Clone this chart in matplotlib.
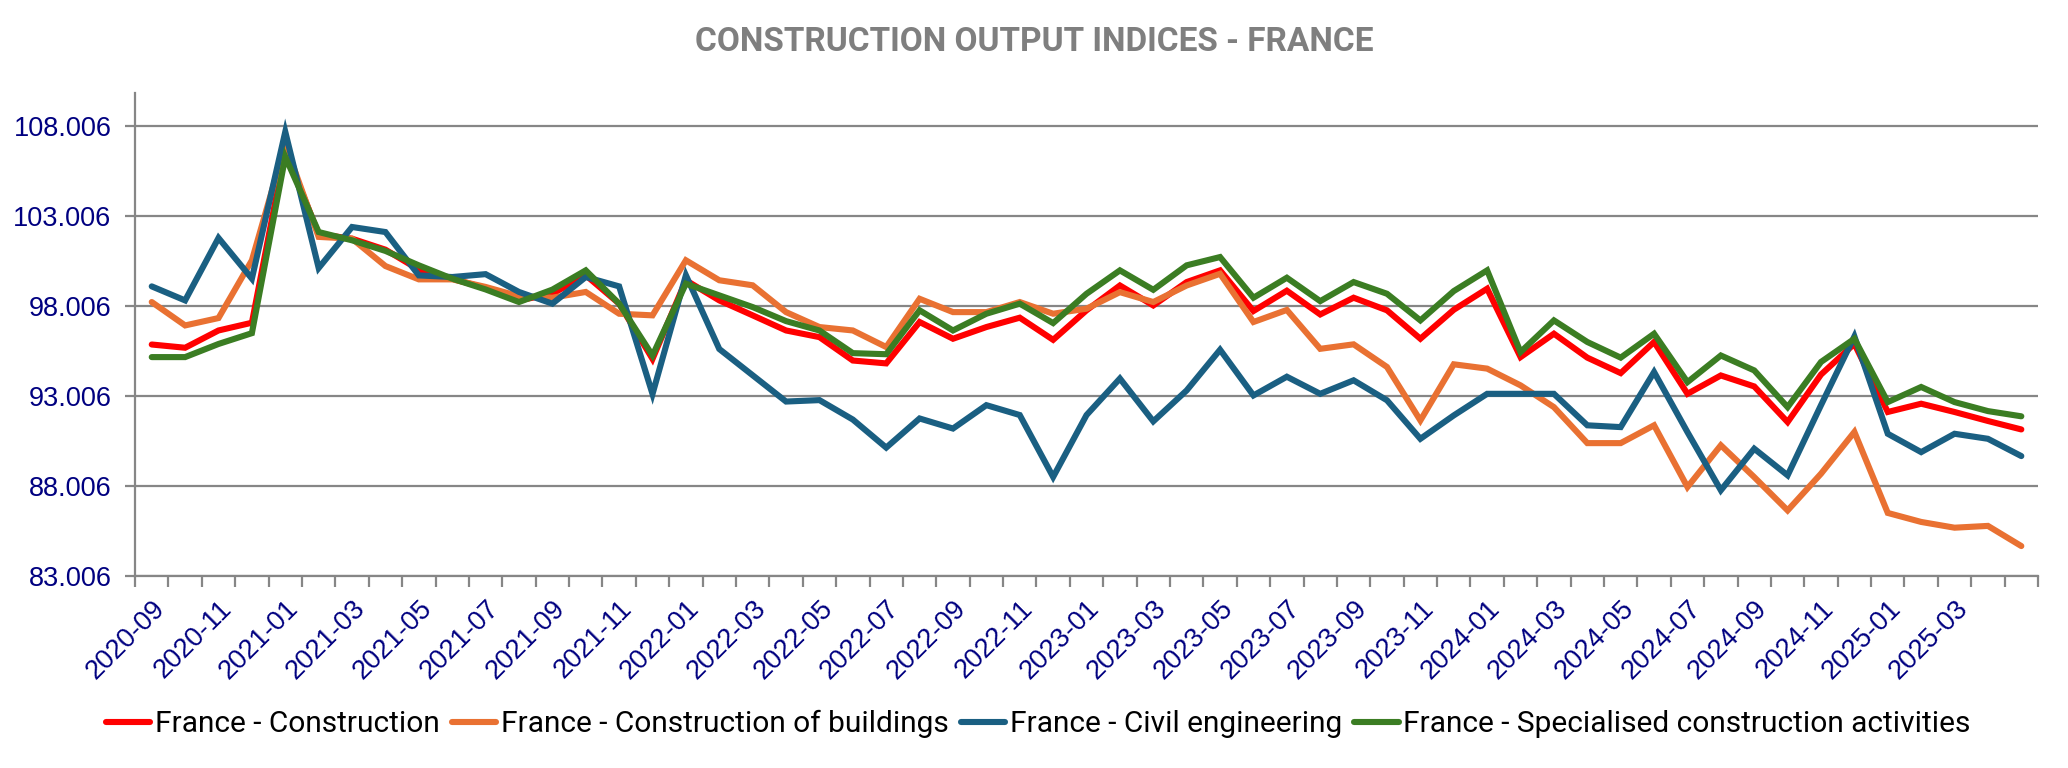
import matplotlib
matplotlib.use("Agg")
import matplotlib.pyplot as plt
from matplotlib.ticker import FixedLocator, FixedFormatter

months = [
    "2020-09", "2020-10", "2020-11", "2020-12",
    "2021-01", "2021-02", "2021-03", "2021-04", "2021-05", "2021-06",
    "2021-07", "2021-08", "2021-09", "2021-10", "2021-11", "2021-12",
    "2022-01", "2022-02", "2022-03", "2022-04", "2022-05", "2022-06",
    "2022-07", "2022-08", "2022-09", "2022-10", "2022-11", "2022-12",
    "2023-01", "2023-02", "2023-03", "2023-04", "2023-05", "2023-06",
    "2023-07", "2023-08", "2023-09", "2023-10", "2023-11", "2023-12",
    "2024-01", "2024-02", "2024-03", "2024-04", "2024-05", "2024-06",
    "2024-07", "2024-08", "2024-09", "2024-10", "2024-11", "2024-12",
    "2025-01", "2025-02", "2025-03", "2025-04", "2025-05",
]

construction = [
    95.87, 95.69, 96.65, 97.08,
    106.67, 102.00, 101.75, 101.14, 100.03, 99.53,
    99.00, 98.32, 98.69, 99.72, 98.14, 95.07,
    99.44, 98.32, 97.49, 96.65, 96.28, 94.98,
    94.82, 97.12, 96.19, 96.84, 97.36, 96.13,
    97.77, 99.15, 98.04, 99.34, 99.99, 97.73,
    98.86, 97.54, 98.47, 97.77, 96.19, 97.80,
    98.97, 95.17, 96.47, 95.14, 94.28, 96.01,
    93.13, 94.15, 93.54, 91.56, 94.20, 95.91,
    92.12, 92.58, 92.12, 91.62, 91.15,
]

buildings = [
    98.23, 96.93, 97.34, 100.55,
    107.00, 101.85, 101.75, 100.23, 99.49, 99.49,
    99.07, 98.55, 98.47, 98.79, 97.58, 97.49,
    100.55, 99.44, 99.16, 97.67, 96.84, 96.65,
    95.73, 98.41, 97.67, 97.67, 98.23, 97.58,
    97.86, 98.78, 98.23, 99.15, 99.80, 97.12,
    97.79, 95.63, 95.88, 94.62, 91.65, 94.77,
    94.53, 93.60, 92.39, 90.39, 90.39, 91.38,
    87.95, 90.27, 88.50, 86.65, 88.69, 91.01,
    86.51, 86.01, 85.69, 85.79, 84.67,
]

civil = [
    99.10, 98.32, 101.79, 99.53,
    107.69, 100.12, 102.40, 102.12, 99.71, 99.62,
    99.78, 98.79, 98.14, 99.62, 99.10, 93.12,
    99.72, 95.62, 94.16, 92.70, 92.78, 91.70,
    90.14, 91.76, 91.20, 92.50, 91.95, 88.51,
    91.95, 93.98, 91.60, 93.32, 95.58, 93.04,
    94.08, 93.13, 93.88, 92.77, 90.63, 91.93,
    93.13, 93.13, 93.13, 91.38, 91.28, 94.34,
    91.00, 87.77, 90.08, 88.60, 92.50, 96.32,
    90.91, 89.89, 90.91, 90.63, 89.67,
]

specialised = [
    95.17, 95.17, 95.90, 96.50,
    106.30, 102.12, 101.66, 101.07, 100.27, 99.53,
    98.93, 98.23, 98.92, 99.99, 98.14, 95.26,
    99.25, 98.60, 97.95, 97.17, 96.65, 95.39,
    95.33, 97.77, 96.65, 97.58, 98.14, 97.06,
    98.69, 99.99, 98.91, 100.27, 100.73, 98.47,
    99.58, 98.28, 99.34, 98.69, 97.21, 98.84,
    99.99, 95.45, 97.21, 96.01, 95.14, 96.47,
    93.78, 95.26, 94.43, 92.39, 94.90, 96.19,
    92.67, 93.51, 92.67, 92.17, 91.88,
]

series_names = [
    "France - Construction",
    "France - Construction of buildings",
    "France - Civil engineering",
    "France - Specialised construction activities",
]
series_colors = ["#FF0000", "#E97132", "#1A5F82", "#3B7D23"]
y_ticks = [83.006, 88.006, 93.006, 98.006, 103.006, 108.006]
y_tick_labels = ["83.006", "88.006", "93.006", "98.006", "103.006", "108.006"]
x_tick_labels = months[:-1:2]

title = "CONSTRUCTION OUTPUT INDICES - FRANCE"

fig = plt.figure(figsize=(20.68, 7.68), dpi=100)
ax = fig.add_axes([0.0653, 0.25, 0.9202, 0.629])

x = list(range(len(months)))
for vals, name, col in zip([construction, buildings, civil, specialised], series_names, series_colors):
    ax.plot(x, vals, color=col, lw=4.4, label=name, solid_joinstyle="miter", solid_capstyle="round")

ax.set_xlim(-0.5, len(months) - 0.5)
ax.set_ylim(83.006, 109.85)

grid_col = "#868686"
label_col = "#000080"

ax.set_yticks(y_ticks)
ax.set_yticklabels(y_tick_labels)
ax.yaxis.grid(True, color=grid_col, lw=1.6)
ax.set_axisbelow(True)
ax.tick_params(axis="y", length=7, width=1.6, color=grid_col, labelcolor=label_col,
               labelsize=19.5, pad=10)

major = x[:-1:2]
ax.xaxis.set_major_locator(FixedLocator(major))
ax.xaxis.set_major_formatter(FixedFormatter(x_tick_labels))
ax.xaxis.set_minor_locator(FixedLocator([i - 0.5 for i in range(len(months) + 1)]))
ax.tick_params(axis="x", which="major", length=0, labelcolor=label_col, labelsize=19.5, pad=14)
ax.tick_params(axis="x", which="minor", length=8, width=1.6, color=grid_col)
for lbl in ax.get_xticklabels():
    lbl.set_rotation(45)
    lbl.set_ha("right")
    lbl.set_va("top")
    lbl.set_rotation_mode("anchor")
for t in ax.get_xticklabels() + ax.get_yticklabels():
    t.set_fontfamily(["Liberation Sans", "DejaVu Sans"])

for s in ["top", "right"]:
    ax.spines[s].set_visible(False)
ax.spines["left"].set_color(grid_col)
ax.spines["left"].set_linewidth(1.6)
ax.spines["bottom"].set_color(grid_col)
ax.spines["bottom"].set_linewidth(1.6)

fig.text(0.5, 0.945, title, ha="center", va="center", fontsize=24, fontweight="bold",
         color="#7F7F7F", family=["Liberation Sans Narrow", "Roboto", "DejaVu Sans"])

leg = fig.legend(loc="center", bbox_to_anchor=(0.502, 0.057), ncol=4, frameon=False,
                 handlelength=1.5, handletextpad=0.15, columnspacing=0.4,
                 prop={"family": ["Roboto", "DejaVu Sans"], "size": 21.5})

fig.savefig("out.png", dpi=100)
